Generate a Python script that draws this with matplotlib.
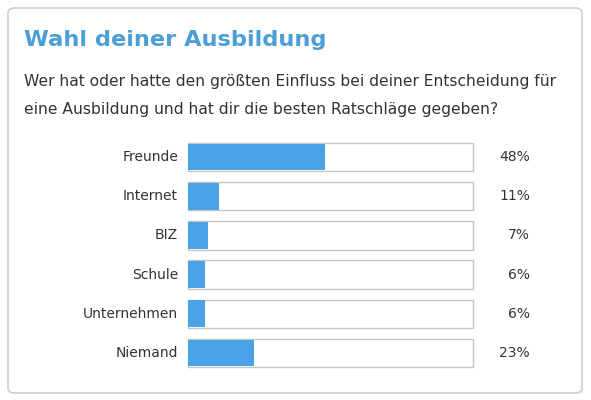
import matplotlib
matplotlib.use("Agg")
import matplotlib.pyplot as plt
from matplotlib.patches import FancyBboxPatch

# --- data -------------------------------------------------------------------
categories = ["Freunde", "Internet", "BIZ", "Schule", "Unternehmen", "Niemand"]
shares = [48, 11, 7, 6, 6, 23]
title = "Wahl deiner Ausbildung"
question = ("Wer hat oder hatte den größten Einfluss bei deiner Entscheidung für\n"
            "eine Ausbildung und hat dir die besten Ratschläge gegeben?")

W, H = 591, 400
fig = plt.figure(figsize=(W / 100, H / 100), dpi=100)
fig.patch.set_facecolor("white")

# card frame with rounded corners (behind everything)
card = FancyBboxPatch((8 / W, 7 / H), 574 / W, 385 / H,
                      boxstyle="round,pad=0,rounding_size=0.012",
                      transform=fig.transFigure, facecolor="white",
                      edgecolor="#cfcfcf", linewidth=1.2, zorder=-5)
fig.patches.append(card)

fig.text(24 / W, 1 - 40 / H, title, color="#4c9fd6", fontsize=16.2,
         fontweight="bold", va="center", ha="left")
fig.text(24 / W, 1 - 95.5 / H, question, color="#333333", fontsize=11.15,
         va="center", ha="left", linespacing=2.12)

# --- bars -------------------------------------------------------------------
ax = fig.add_axes([188 / W, (H - 367) / H, 285 / W, 224 / H])
ax.set_zorder(2)
ax.patch.set_alpha(0)
ypos = list(range(len(categories)))
bh = 0.72
frames = ax.barh(ypos, [100] * len(categories), height=bh, color="white",
                 edgecolor="#c4c4c4", linewidth=1.0, zorder=1)
fills = ax.barh(ypos, shares, height=bh - 0.04, color="#4aa3e6", linewidth=0, zorder=2)
for p in list(frames) + list(fills):
    p.set_clip_on(False)
ax.set_xlim(0, 100)
ax.set_ylim(len(categories) - 1 + bh / 2, -bh / 2)
ax.axis("off")

for y, cat, val in zip(ypos, categories, shares):
    ax.text(-3.5, y, cat, ha="right", va="center", fontsize=10, color="#333333",
            clip_on=False)
    ax.text(120, y, f"{val}%", ha="right", va="center", fontsize=10, color="#333333",
            clip_on=False)

fig.savefig("out.png", dpi=100)
